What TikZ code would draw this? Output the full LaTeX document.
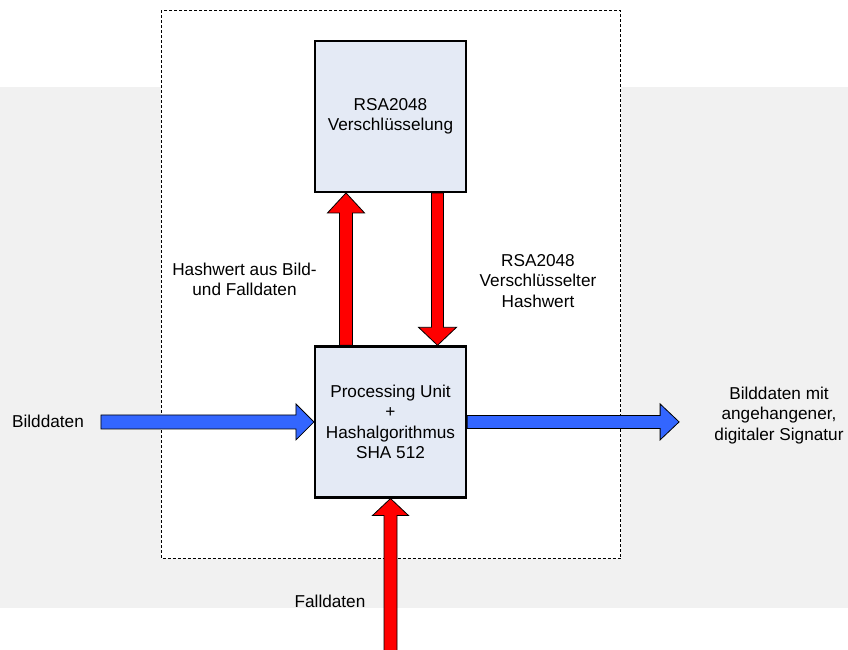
\documentclass[tikz,border=0pt]{standalone}
\usepackage{fontspec}
\setmainfont{Liberation Sans}
\usetikzlibrary{calc}

\definecolor{bandgray}{RGB}{241,241,241}
\definecolor{boxfill}{RGB}{228,234,245}
\definecolor{flowblue}{RGB}{51,102,255}
\definecolor{flowred}{RGB}{255,0,0}

\pgfdeclarelayer{bg}
\pgfdeclarelayer{mid}
\pgfsetlayers{bg,mid,main}

% Block arrow: #1 fill colour, #2 start coordinate, #3 tip coordinate,
% #4 half shaft width, #5 half head width, #6 head length
\newcommand{\blockarrow}[6]{%
  \coordinate (ba-h) at ($(#3)!#6!(#2)$);
  \draw[arrowline, fill=#1]
    ($(#2)!#4!90:(#3)$) -- ($(ba-h)!#4!90:(#3)$) -- ($(ba-h)!#5!90:(#3)$) -- (#3)
    -- ($(ba-h)!#5!-90:(#3)$) -- ($(ba-h)!#4!-90:(#3)$) -- ($(#2)!#4!-90:(#3)$) -- cycle;
}

\tikzset{
  txt/.style={font=\fontsize{17.2}{20.4}\selectfont},
  procbox/.style={txt, draw=black, line width=2.2pt, fill=boxfill,
    minimum width=151pt, minimum height=151pt, inner sep=0pt, align=center},
  lbl/.style={txt, inner sep=0pt, align=center},
  arrowline/.style={draw=black, line width=0.8pt, line join=miter},
  dashframe/.style={draw=black, line width=0.8pt, dash pattern=on 3pt off 2pt, fill=white}
}

\begin{document}
\begin{tikzpicture}[x=1pt, y=-1pt]
\useasboundingbox (0,0) rectangle (848,649);

% grey band and dashed system boundary
\begin{pgfonlayer}{bg}
  \fill[bandgray] (0,87) rectangle (848,608);
  \draw[dashframe] (161,10) rectangle (620.5,558.5);
\end{pgfonlayer}

% processing blocks
\node[procbox] (rsa) at (390.5,116.3) {RSA2048\\Verschlüsselung};
\node[procbox] (proc) at (390.5,421.9) {Processing Unit\\+\\Hashalgorithmus\\SHA 512};

% labels
\node[lbl] (hashlbl) at (244.5,279.5) {Hashwert aus Bild-\\und Falldaten};
\node[lbl] (enclbl) at (538,281) {RSA2048\\Verschlüsselter\\Hashwert};
\node[lbl] (outlbl) at (779,415.5) {Bilddaten mit\\angehangener,\\digitaler Signatur};
\node[lbl, anchor=base] (inlbl) at (48,427) {Bilddaten};
\node[lbl, anchor=base] (falllbl) at (330,607.5) {Falldaten};

% connectors
\begin{pgfonlayer}{mid}
  \coordinate (hashS) at ([xshift=-44.5pt]proc.north);
  \coordinate (hashT) at ([xshift=-44.5pt]rsa.south);
  \coordinate (encS) at ([xshift=47pt]rsa.south);
  \coordinate (encT) at ([xshift=47pt]proc.north);
  \coordinate (inL) at ([xshift=-213pt]proc.west);
  \coordinate (outR) at ([xshift=212pt]proc.east);
  \coordinate (fallS) at ([yshift=-155pt]proc.south);

  \blockarrow{flowred}{hashS}{hashT}{6.5pt}{18.5pt}{20pt}
  \blockarrow{flowred}{encS}{encT}{6pt}{19pt}{18pt}
  \blockarrow{flowblue}{inL}{proc.west}{7pt}{18pt}{18pt}
  \blockarrow{flowblue}{proc.east}{outR}{6.5pt}{18pt}{19pt}
  \blockarrow{flowred}{fallS}{proc.south}{6.5pt}{18pt}{17pt}
\end{pgfonlayer}
\end{tikzpicture}
\end{document}
